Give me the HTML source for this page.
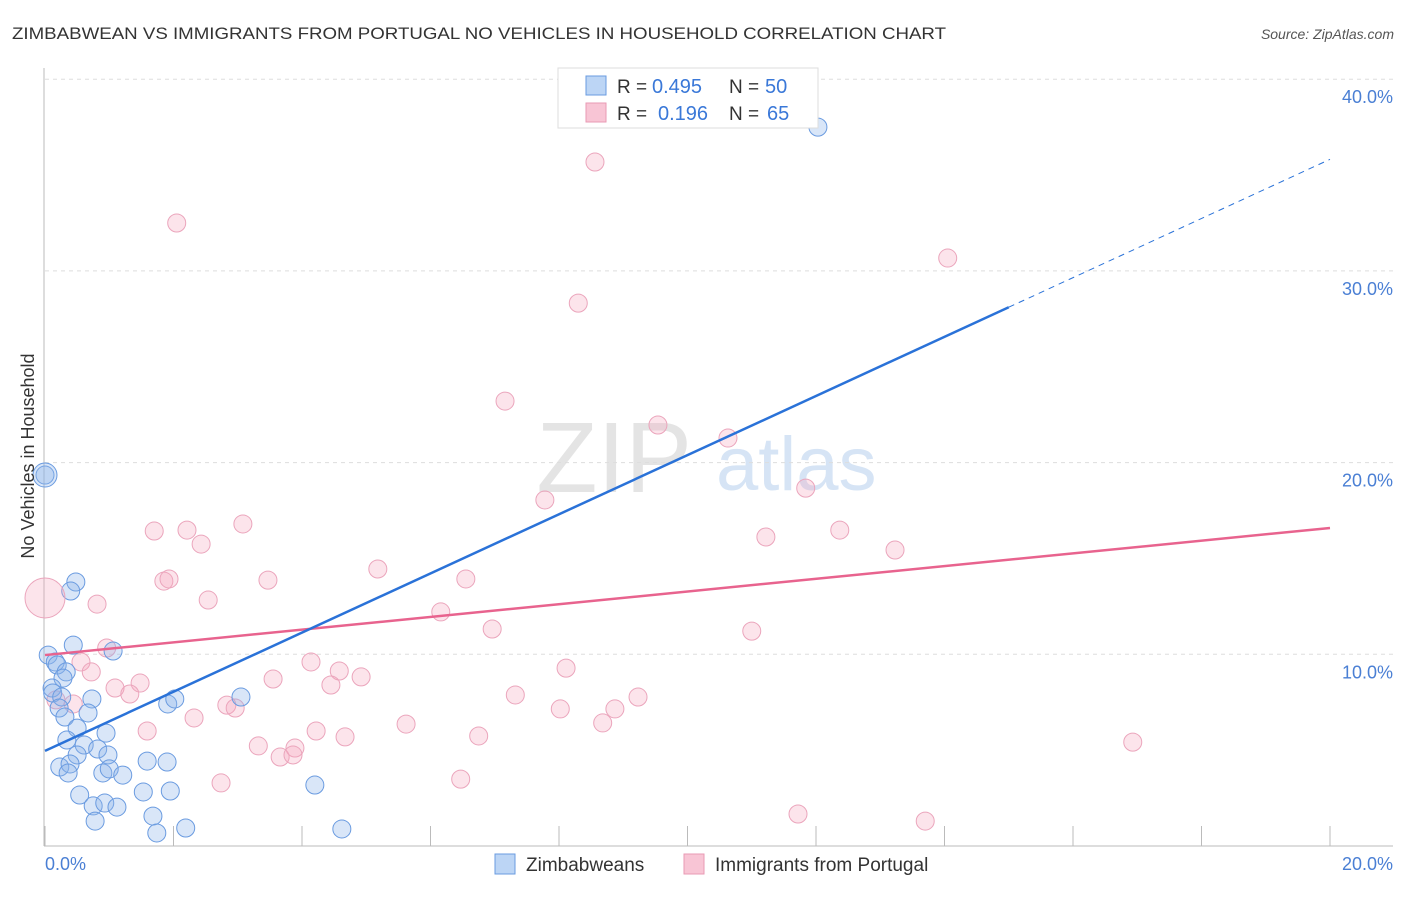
<!DOCTYPE html>
<html><head><meta charset="utf-8"><style>
body{margin:0;background:#fff;font-family:"Liberation Sans",sans-serif;}
svg text{font-family:"Liberation Sans",sans-serif;}
</style></head><body>
<svg id="c" width="1406" height="892" xmlns="http://www.w3.org/2000/svg">
<text x="12" y="39" font-size="17" fill="#333" textLength="934" lengthAdjust="spacingAndGlyphs">ZIMBABWEAN VS IMMIGRANTS FROM PORTUGAL NO VEHICLES IN HOUSEHOLD CORRELATION CHART</text>
<text x="1394" y="39" font-size="14" fill="#555" font-style="italic" text-anchor="end">Source: ZipAtlas.com</text>
<text x="692" y="492" font-size="100" fill="#e4e4e4" text-anchor="end" font-family="Liberation Serif,serif">ZIP</text>
<text x="716" y="490" font-size="76" fill="#d6e4f5">atlas</text>
<g id="grid"></g>
<g id="marks"></g>
<text transform="translate(34,456) rotate(-90)" font-size="18" fill="#333" text-anchor="middle">No Vehicles in Household</text>
<text x="45" y="870" font-size="18" fill="#4a7fd4">0.0%</text>
<text x="1393" y="870" font-size="18" fill="#4a7fd4" text-anchor="end">20.0%</text>
<g>
<rect x="558" y="68" width="260" height="60" fill="#fff" stroke="#ddd"/>
<rect x="586" y="76" width="20" height="19" fill="#bcd5f5" stroke="#6a9be0"/>
<rect x="586" y="103" width="20" height="19" fill="#f8c5d5" stroke="#e99ab4"/>
<text x="617" y="93" font-size="19" fill="#333">R =</text>
<text x="652" y="93" font-size="20" fill="#3a78d8">0.495</text>
<text x="729" y="93" font-size="19" fill="#333">N =</text>
<text x="765" y="93" font-size="20" fill="#3a78d8">50</text>
<text x="617" y="120" font-size="19" fill="#333">R =</text>
<text x="658" y="120" font-size="20" fill="#3a78d8">0.196</text>
<text x="729" y="120" font-size="19" fill="#333">N =</text>
<text x="767" y="120" font-size="20" fill="#3a78d8">65</text>
</g>
<g>
<rect x="495" y="854" width="20" height="20" fill="#bcd5f5" stroke="#6a9be0"/>
<text x="526" y="871" font-size="19" fill="#333">Zimbabweans</text>
<rect x="684" y="854" width="20" height="20" fill="#f8c5d5" stroke="#e99ab4"/>
<text x="715" y="871" font-size="19" fill="#333">Immigrants from Portugal</text>
</g>
</svg>
<script>
const yTicks=[10,20,30,40];
const yTickLabels=["10.0%","20.0%","30.0%","40.0%"];
const xTicks=[0,2,4,6,8,10,12,14,16,18,20];
const blueX=[12.03,0,0.48,0.40,0.44,1.06,0.05,0.16,0.19,0.33,0.28,0.11,0.12,0.26,0.73,0.22,0.67,0.31,1.91,2.02,3.05,0.50,0.95,0.34,0.61,0.50,0.82,0.98,0.23,0.39,0.36,0.90,1.00,1.21,1.59,1.90,0.54,0.75,0.93,1.12,0.78,1.53,1.95,1.68,1.74,2.19,4.20,4.62];
const blueY=[37.50,19.35,13.77,13.30,10.48,10.17,9.96,9.60,9.44,9.08,8.76,8.24,7.98,7.77,7.67,7.20,6.94,6.73,7.41,7.67,7.77,6.15,5.89,5.53,5.27,4.75,5.06,4.75,4.12,4.28,3.81,3.81,4.02,3.70,4.43,4.38,2.66,2.09,2.24,2.03,1.30,2.82,2.87,1.56,0.68,0.94,3.18,0.89];
const pinkX=[8.56,2.05,8.30,14.05,7.16,9.54,10.63,7.78,11.84,11.22,12.37,13.23,1.70,2.21,3.08,2.43,1.85,1.93,3.47,5.18,6.55,2.54,0.81,6.16,6.96,11.00,0.96,0.56,0.72,4.14,4.58,4.92,3.55,4.45,8.11,1.48,1.09,1.32,7.32,9.23,0.17,0.44,2.83,2.96,2.32,5.62,8.02,8.87,8.68,1.59,4.22,4.67,6.75,3.32,3.89,3.66,3.86,16.93,2.74,6.47,11.72,13.70];
const pinkY=[35.68,32.50,28.32,30.67,23.21,21.96,21.28,18.05,18.67,16.12,16.48,15.44,16.43,16.48,16.80,15.75,13.82,13.93,13.87,14.45,13.93,12.83,12.62,12.21,11.32,11.21,10.33,9.60,9.08,9.60,9.13,8.82,8.71,8.40,9.28,8.50,8.24,7.93,7.88,7.77,7.62,7.41,7.35,7.20,6.68,6.36,7.15,7.15,6.42,6.00,6.00,5.69,5.74,5.22,5.11,4.64,4.75,5.42,3.29,3.49,1.67,1.30];
const bigPoints=[{s:'blue',x:0,y:19.35,r:12},{s:'pink',x:0,y:12.94,r:20}];
const blueTrend=[4.96,1.543];
const pinkTrend=[9.96,0.3315];
const NS="http://www.w3.org/2000/svg";
const X=v=>45+v*64.25, Y=v=>846-v*19.17;
function mk(t,a,p){const e=document.createElementNS(NS,t);for(const k in a)e.setAttribute(k,a[k]);p.appendChild(e);return e;}
const g=document.getElementById('grid'), m=document.getElementById('marks');
yTicks.forEach((t,i)=>{
 const l=mk('line',{x1:45,x2:1393,y1:Y(t),y2:Y(t),stroke:'#ddd','stroke-dasharray':'4,4'},g);
 
 
 const tx=mk('text',{x:1393,y:Y(t)+24,'font-size':18,fill:'#4a7fd4','text-anchor':'end'},g);
 tx.textContent=yTickLabels[i];
 
 
});
const ax=mk('line',{x1:44,x2:44,y1:68,y2:846,stroke:'#bbb'},g);


const bx=mk('line',{x1:44,x2:1393,y1:846,y2:846,stroke:'#bbb'},g);


xTicks.forEach(t=>{const l=mk('line',{x1:X(t),x2:X(t),y1:826,y2:846,stroke:'#bbb'},g);
 
 });
function dot(x,y,r,s){
 const c=mk('circle',{cx:X(x),cy:Y(y),r:r,fill:s=='blue'?'rgba(140,180,235,0.33)':'rgba(245,165,190,0.3)',stroke:s=='blue'?'#6a9be0':'#eba5bc','stroke-width':1},m);
 
 
}
pinkX.forEach((x,i)=>dot(x,pinkY[i],9,'pink'));
blueX.forEach((x,i)=>dot(x,blueY[i],9,'blue'));
bigPoints.forEach(p=>dot(p.x,p.y,p.r,p.s));
const pl=mk('line',{x1:X(0),y1:Y(pinkTrend[0]),x2:X(20),y2:Y(pinkTrend[0]+20*pinkTrend[1]),stroke:'#e8638e','stroke-width':2.5},m);


const bl=mk('line',{x1:X(0),y1:Y(blueTrend[0]),x2:X(15),y2:Y(blueTrend[0]+15*blueTrend[1]),stroke:'#2a72d8','stroke-width':2.5},m);


const bd=mk('line',{x1:X(15),y1:Y(blueTrend[0]+15*blueTrend[1]),x2:X(20),y2:Y(blueTrend[0]+20*blueTrend[1]),stroke:'#2a72d8','stroke-width':1,'stroke-dasharray':'6,5'},m);


</script>
</body></html>
